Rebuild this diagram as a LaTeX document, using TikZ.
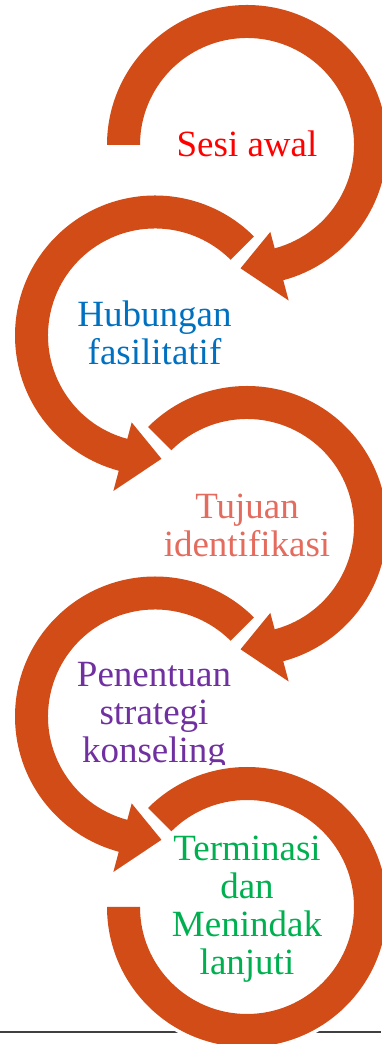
\documentclass[tikz,border=0pt]{standalone}
\usepackage{fontspec}
\setmainfont{Liberation Serif}

\definecolor{oranye}{RGB}{210,76,24}
\definecolor{merah}{RGB}{255,0,0}
\definecolor{biru}{RGB}{0,112,192}
\definecolor{salem}{RGB}{228,108,95}
\definecolor{ungu}{RGB}{112,48,160}
\definecolor{hijau}{RGB}{0,176,80}

\tikzset{
	busur/.style = {fill = oranye, preaction = {draw = white, line width = 7pt}},
	teks/.style = {align = center, anchor = base, inner sep = 0pt, font = \fontsize{37}{38}\selectfont}
}

\begin{document}
\begin{tikzpicture}[x = 1pt, y = 1pt]
	\useasboundingbox (0, 0) rectangle (381, 1044);

	% Garis bawah
	\draw [line width = 1.5pt, color = black!75] (0, 12) -- (381, 12);

	% Busur dengan panah
	\foreach \cx/\cy/\a/\b/\t in {247/899/180/-75/-93, 155/708.5/45/255/273, 247/518/135/-75/-93, 155/327.5/45/255/273} {
		\begin{scope}[shift = {(\cx, \cy)}]
			\path [busur] (\a:140) arc [start angle = \a, end angle = \b, radius = 140]
				-- (\b:161) -- (\t:123.5) -- (\b:90) -- (\b:107)
				arc [start angle = \b, end angle = \a, radius = 107] -- cycle;
		\end{scope}
	}

	% Busur terakhir tanpa panah
	\begin{scope}[shift = {(247, 137)}]
		\path [busur] (135:140) arc [start angle = 135, end angle = -180, radius = 140]
			-- (-180:107) arc [start angle = -180, end angle = 135, radius = 107] -- cycle;
	\end{scope}

	% Teks (anchor base = baris terakhir)
	\node [teks, text = merah] (sesi) at (247, 887) {Sesi awal};
	\node [teks, text = biru] (hubungan) at (154.5, 679) {Hubungan\\fasilitatif};
	\node [teks, text = salem] (tujuan) at (247, 487) {Tujuan\\identifikasi};
	\begin{scope}
		\clip (0, 279) rectangle (381, 1044);
		\node [teks, text = ungu] (penentuan) at (154, 281) {Penentuan\\strategi\\konseling};
	\end{scope}
	\node [teks, text = hijau] (terminasi) at (247, 69) {Terminasi\\dan\\Menindak\\lanjuti};
\end{tikzpicture}
\end{document}
